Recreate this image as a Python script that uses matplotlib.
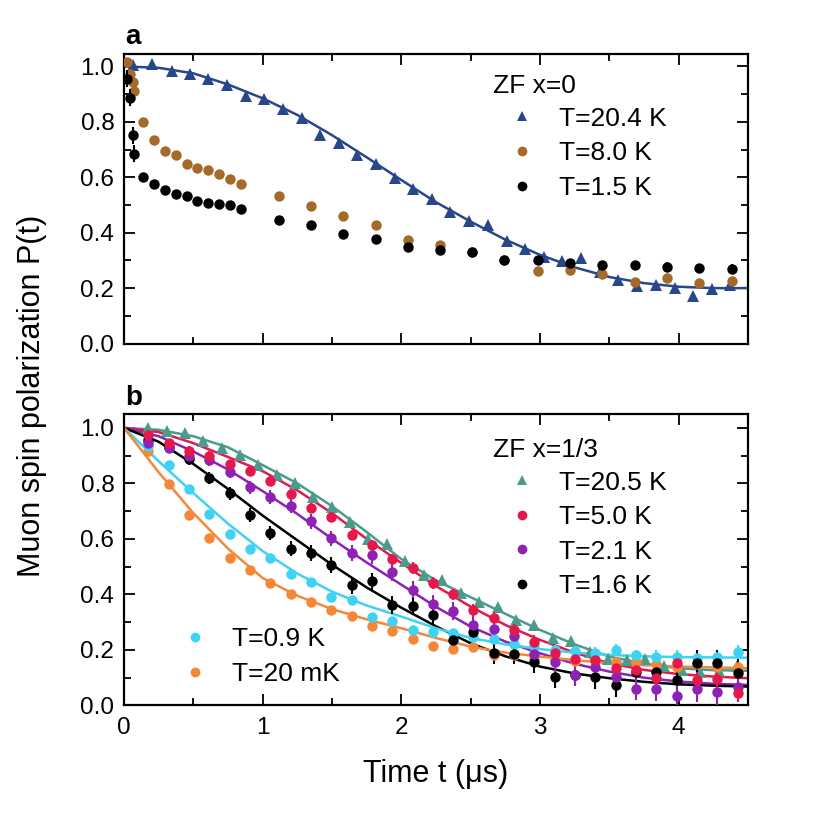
import matplotlib
matplotlib.use("Agg")
import matplotlib.pyplot as plt
from matplotlib.lines import Line2D

plt.rcParams['font.family'] = ['Liberation Sans', 'DejaVu Sans']

# ---- panel a : ZF x=0 ----
t_a204 = [0.067, 0.204, 0.343, 0.473, 0.608, 0.740, 0.877, 1.011, 1.148, 1.282, 1.414,
          1.549, 1.683, 1.818, 1.952, 2.087, 2.224, 2.353, 2.49, 2.625, 2.763, 2.89,
          3.028, 3.16, 3.297, 3.432, 3.566, 3.70, 3.835, 3.97, 4.104, 4.241, 4.373]
p_a204 = [1.004, 1.007, 0.982, 0.974, 0.956, 0.932, 0.892, 0.884, 0.848, 0.814, 0.754,
          0.725, 0.682, 0.649, 0.599, 0.559, 0.520, 0.475, 0.443, 0.427, 0.371, 0.341,
          0.311, 0.297, 0.307, 0.259, 0.231, 0.208, 0.211, 0.201, 0.171, 0.195, 0.210]

t_a_low = [0.019, 0.043, 0.062, 0.074, 0.139, 0.216, 0.295, 0.372, 0.451, 0.53, 0.608,
           0.684, 0.763, 0.843, 1.117, 1.347, 1.58, 1.816, 2.049, 2.277, 2.51, 2.744,
           2.985, 3.218, 3.446, 3.682, 3.914, 4.15, 4.383]
p_a80 = [1.015, 0.974, 0.943, 0.913, 0.799, 0.733, 0.694, 0.682, 0.649, 0.634, 0.628,
         0.611, 0.592, 0.577, 0.533, 0.497, 0.461, 0.427, 0.375, 0.355, 0.331, 0.303,
         0.262, 0.265, 0.250, 0.223, 0.235, 0.219, 0.226]
e_a80 = [0.015, 0.015, 0.015, 0.015, 0.01, 0.01, 0.01, 0.01, 0.01, 0.01, 0.01,
         0.01, 0.01, 0.01, 0.01, 0.01, 0.01, 0.01, 0.01, 0.01, 0.012, 0.012,
         0.012, 0.012, 0.012, 0.013, 0.013, 0.014, 0.015]
p_a15 = [0.956, 0.887, 0.751, 0.685, 0.601, 0.574, 0.553, 0.539, 0.533, 0.515, 0.508,
         0.503, 0.499, 0.487, 0.445, 0.427, 0.395, 0.379, 0.349, 0.337, 0.329, 0.300,
         0.303, 0.289, 0.283, 0.283, 0.277, 0.271, 0.268]
e_a15 = [0.03, 0.03, 0.03, 0.03, 0.012, 0.012, 0.012, 0.012, 0.012, 0.012, 0.012,
         0.012, 0.012, 0.012, 0.012, 0.012, 0.012, 0.012, 0.012, 0.013, 0.013, 0.013,
         0.014, 0.014, 0.015, 0.015, 0.016, 0.017, 0.018]

# fit curve for T=20.4 K
t_fit = [0.0, 0.25, 0.5, 0.75, 1.0, 1.25, 1.5, 1.75, 2.0, 2.25, 2.5, 2.75, 3.0, 3.25,
         3.5, 3.75, 4.0, 4.25, 4.5]
f_a204 = [1.0, 0.995, 0.975, 0.935, 0.885, 0.825, 0.752, 0.672, 0.59, 0.51, 0.44,
          0.375, 0.32, 0.275, 0.24, 0.218, 0.205, 0.2, 0.2]

# ---- panel b : ZF x=1/3 ----
t_b205 = [0.175, 0.307, 0.439, 0.571, 0.704, 0.836, 0.968, 1.100, 1.232, 1.364, 1.497,
          1.63, 1.763, 1.896, 2.029, 2.162, 2.295, 2.428, 2.561, 2.694, 2.827, 2.96,
          3.093, 3.226, 3.359, 3.492, 3.625, 3.758, 3.891, 4.024, 4.157, 4.29, 4.423]
p_b205 = [1.0, 0.988, 0.98, 0.952, 0.926, 0.904, 0.868, 0.832, 0.802, 0.751, 0.715,
          0.66, 0.60, 0.583, 0.522, 0.471, 0.453, 0.405, 0.371, 0.355, 0.308, 0.29,
          0.243, 0.232, 0.194, 0.168, 0.163, 0.167, 0.141, 0.128, 0.122, 0.125, 0.143]

t_b = [0.175, 0.322, 0.468, 0.615, 0.761, 0.908, 1.055, 1.201, 1.348, 1.494, 1.641,
       1.787, 1.934, 2.081, 2.227, 2.374, 2.520, 2.667, 2.813, 2.960, 3.107, 3.253,
       3.400, 3.546, 3.693, 3.839, 3.986, 4.133, 4.279, 4.426]
p_b50 = [0.975, 0.946, 0.918, 0.90, 0.871, 0.846, 0.81, 0.762, 0.711, 0.679, 0.615,
         0.579, 0.527, 0.495, 0.441, 0.401, 0.342, 0.314, 0.272, 0.23, 0.19, 0.168,
         0.165, 0.136, 0.127, 0.10, 0.153, 0.091, 0.095, 0.044]
e_b50 = [0.015, 0.015, 0.015, 0.015, 0.015, 0.015, 0.017, 0.017, 0.017, 0.018, 0.018,
         0.018, 0.02, 0.02, 0.02, 0.02, 0.022, 0.022, 0.022, 0.022, 0.024, 0.024,
         0.025, 0.025, 0.026, 0.027, 0.028, 0.028, 0.03, 0.03]
p_b21 = [0.946, 0.928, 0.898, 0.886, 0.840, 0.786, 0.751, 0.72, 0.663, 0.603, 0.55,
         0.541, 0.479, 0.417, 0.367, 0.341, 0.29, 0.275, 0.25, 0.185, 0.158, 0.11,
         0.14, 0.104, 0.06, 0.058, 0.034, 0.058, 0.049, 0.066]
e_b21 = [0.02, 0.02, 0.02, 0.022, 0.022, 0.024, 0.024, 0.025, 0.026, 0.027, 0.028,
         0.03, 0.03, 0.031, 0.032, 0.033, 0.034, 0.035, 0.036, 0.037, 0.038, 0.039,
         0.04, 0.041, 0.042, 0.043, 0.044, 0.045, 0.046, 0.047]
p_b16 = [0.956, 0.93, 0.888, 0.818, 0.764, 0.686, 0.621, 0.564, 0.55, 0.507, 0.433,
         0.447, 0.362, 0.358, 0.325, 0.236, 0.266, 0.188, 0.186, 0.155, 0.104, 0.11,
         0.101, 0.072, 0.12, 0.122, 0.092, 0.154, 0.152, 0.116]
e_b16 = [0.02, 0.02, 0.022, 0.022, 0.024, 0.025, 0.026, 0.027, 0.028, 0.029, 0.03,
         0.031, 0.032, 0.033, 0.034, 0.035, 0.036, 0.037, 0.038, 0.039, 0.04, 0.041,
         0.042, 0.043, 0.044, 0.045, 0.046, 0.047, 0.048, 0.05]
p_b09 = [0.934, 0.868, 0.78, 0.689, 0.618, 0.565, 0.532, 0.472, 0.443, 0.392, 0.38,
         0.318, 0.305, 0.27, 0.265, 0.26, 0.245, 0.238, 0.222, 0.215, 0.20, 0.195,
         0.19, 0.20, 0.18, 0.176, 0.176, 0.17, 0.175, 0.192]
e_b09 = [0.012, 0.012, 0.012, 0.012, 0.013, 0.013, 0.013, 0.014, 0.014, 0.014, 0.015,
         0.015, 0.015, 0.016, 0.016, 0.017, 0.017, 0.018, 0.018, 0.019, 0.019, 0.02,
         0.02, 0.021, 0.021, 0.022, 0.022, 0.023, 0.024, 0.025]
p_b002 = [0.916, 0.796, 0.686, 0.602, 0.532, 0.489, 0.441, 0.403, 0.371, 0.345, 0.321,
          0.286, 0.268, 0.239, 0.214, 0.204, 0.211, 0.182, 0.182, 0.17, 0.168, 0.16,
          0.165, 0.155, 0.155, 0.15, 0.14, 0.148, 0.14, 0.14]
e_b002 = [0.012, 0.012, 0.012, 0.012, 0.012, 0.012, 0.013, 0.013, 0.013, 0.013, 0.014,
          0.014, 0.014, 0.015, 0.015, 0.015, 0.016, 0.016, 0.016, 0.017, 0.017, 0.018,
          0.018, 0.018, 0.019, 0.019, 0.02, 0.02, 0.021, 0.021]

# fit curves panel b (same t_fit grid)
f_b205 = [1.0, 0.993, 0.97, 0.93, 0.866, 0.80, 0.718, 0.625, 0.527, 0.45, 0.39,
          0.33, 0.272, 0.22, 0.176, 0.15, 0.134, 0.127, 0.125]
f_b50 = [1.0, 0.985, 0.945, 0.895, 0.844, 0.775, 0.693, 0.60, 0.513, 0.43, 0.356,
         0.29, 0.236, 0.19, 0.152, 0.128, 0.113, 0.104, 0.098]
f_b21 = [1.0, 0.97, 0.915, 0.85, 0.772, 0.69, 0.60, 0.515, 0.435, 0.355, 0.284,
         0.23, 0.188, 0.15, 0.122, 0.10, 0.086, 0.078, 0.074]
f_b16 = [1.0, 0.95, 0.87, 0.78, 0.684, 0.595, 0.507, 0.425, 0.352, 0.285, 0.224,
         0.177, 0.14, 0.115, 0.098, 0.085, 0.076, 0.071, 0.068]
f_b09 = [1.0, 0.88, 0.765, 0.655, 0.556, 0.475, 0.41, 0.36, 0.32, 0.278, 0.243,
         0.22, 0.203, 0.19, 0.182, 0.177, 0.174, 0.173, 0.172]
f_b002 = [1.0, 0.84, 0.693, 0.565, 0.459, 0.395, 0.347, 0.31, 0.278, 0.243, 0.212,
          0.19, 0.176, 0.163, 0.152, 0.145, 0.14, 0.137, 0.134]

c_navy = '#27478a'
c_brown = '#a5692a'
c_teal = '#4b9b8c'
c_red = '#e5184c'
c_purple = '#8d22b3'
c_cyan = '#3fd2f2'
c_orange = '#f58838'

FS_TICK = 17.5
FS_LEG = 19
MS_O = 7.5
MS_T = 8.5


def style_axes(ax):
  ax.set_xlim(0, 4.5)
  ax.set_xticks([0, 1, 2, 3, 4])
  ax.set_xticks([0.5, 1.5, 2.5, 3.5, 4.5], minor=True)
  ax.set_yticks([0.0, 0.2, 0.4, 0.6, 0.8, 1.0])
  ax.set_yticks([0.1, 0.3, 0.5, 0.7, 0.9], minor=True)
  ax.set_yticklabels(['0.0', '0.2', '0.4', '0.6', '0.8', '1.0'])
  ax.tick_params(which='both', direction='in', top=True, right=True,
                 labelsize=FS_TICK, width=1.3)
  ax.tick_params(which='major', length=8)
  ax.tick_params(which='minor', length=5)
  ax.tick_params(axis='y', pad=7)
  ax.tick_params(axis='x', pad=8)
  for s in ax.spines.values():
    s.set_linewidth(1.6)


def add_legend(ax, handles, labels, x, y, spacing):
  leg = ax.legend(handles, labels, loc='upper left', bbox_to_anchor=(x, y),
                  frameon=False, fontsize=FS_LEG, handlelength=1.0,
                  handletextpad=0.9, labelspacing=spacing, borderpad=0,
                  borderaxespad=0)
  return leg


def mk(marker, color, ms=7):
  return Line2D([], [], linestyle='none', marker=marker, color=color,
                markersize=ms, markeredgewidth=0)


fig = plt.figure(figsize=(8.3, 8.3), dpi=100)
ax1 = fig.add_axes([0.1494, 0.5861, 0.7518, 0.3489])
ax2 = fig.add_axes([0.1494, 0.1501, 0.7518, 0.3511])

# panel a
ax1.plot(t_fit, f_a204, '-', color=c_navy, lw=1.8, zorder=2)
ax1.plot(t_a204, p_a204, '^', color=c_navy, ms=MS_T, mew=0, zorder=3)
ax1.errorbar(t_a_low, p_a80, yerr=e_a80, fmt='o', color=c_brown, ms=MS_O, mew=0,
             elinewidth=1.5, capsize=0, zorder=3)
ax1.errorbar(t_a_low, p_a15, yerr=e_a15, fmt='o', color='black', ms=MS_O, mew=0,
             elinewidth=1.5, capsize=0, zorder=4)
style_axes(ax1)
ax1.set_ylim(0, 1.045)
ax1.tick_params(labelbottom=False)
ax1.text(0.591, 0.889, 'ZF x=0', transform=ax1.transAxes, fontsize=FS_LEG,
         va='center', ha='left')
add_legend(ax1, [mk('^', c_navy), mk('o', c_brown), mk('o', 'black')],
           ['T=20.4 K', 'T=8.0 K', 'T=1.5 K'], 0.617, 0.818, 0.4)

# panel b
ax2.plot(t_fit, f_b205, '-', color=c_teal, lw=1.8, zorder=2)
ax2.plot(t_fit, f_b50, '-', color=c_red, lw=1.8, zorder=2)
ax2.plot(t_fit, f_b21, '-', color=c_purple, lw=1.8, zorder=2)
ax2.plot(t_fit, f_b16, '-', color='black', lw=1.8, zorder=2)
ax2.plot(t_fit, f_b09, '-', color=c_cyan, lw=1.8, zorder=2)
ax2.plot(t_fit, f_b002, '-', color=c_orange, lw=1.8, zorder=2)
ax2.plot(t_b205, p_b205, '^', color=c_teal, ms=MS_T, mew=0, zorder=3)
ax2.errorbar(t_b, p_b002, yerr=e_b002, fmt='o', color=c_orange, ms=MS_O, mew=0,
             elinewidth=1.5, capsize=0, zorder=3)
ax2.errorbar(t_b, p_b09, yerr=e_b09, fmt='o', color=c_cyan, ms=MS_O, mew=0,
             elinewidth=1.5, capsize=0, zorder=3)
ax2.errorbar(t_b, p_b16, yerr=e_b16, fmt='o', color='black', ms=MS_O, mew=0,
             elinewidth=1.5, capsize=0, zorder=3)
ax2.errorbar(t_b, p_b21, yerr=e_b21, fmt='o', color=c_purple, ms=MS_O, mew=0,
             elinewidth=1.5, capsize=0, zorder=3)
ax2.errorbar(t_b, p_b50, yerr=e_b50, fmt='o', color=c_red, ms=MS_O, mew=0,
             elinewidth=1.5, capsize=0, zorder=3)
style_axes(ax2)
ax2.set_ylim(0, 1.05)
ax2.text(0.591, 0.876, 'ZF x=1/3', transform=ax2.transAxes, fontsize=FS_LEG,
         va='center', ha='left')
l2 = add_legend(ax2, [mk('^', c_teal), mk('o', c_red), mk('o', c_purple), mk('o', 'black')],
                ['T=20.5 K', 'T=5.0 K', 'T=2.1 K', 'T=1.6 K'], 0.617, 0.806, 0.4)
ax2.add_artist(l2)
add_legend(ax2, [mk('o', c_cyan), mk('o', c_orange)],
           ['T=0.9 K', 'T=20 mK'], 0.092, 0.268, 0.4)

fig.text(0.151, 0.955, 'a', fontsize=20, fontweight='bold', va='center', ha='left')
fig.text(0.151, 0.521, 'b', fontsize=20, fontweight='bold', va='center', ha='left')
fig.text(0.038, 0.523, 'Muon spin polarization P(t)', rotation=90, fontsize=22,
         va='center', ha='center')
fig.text(0.525, 0.068, 'Time t (μs)', fontsize=22, va='center', ha='center')

plt.savefig('out.png', dpi=100)
plt.close()
